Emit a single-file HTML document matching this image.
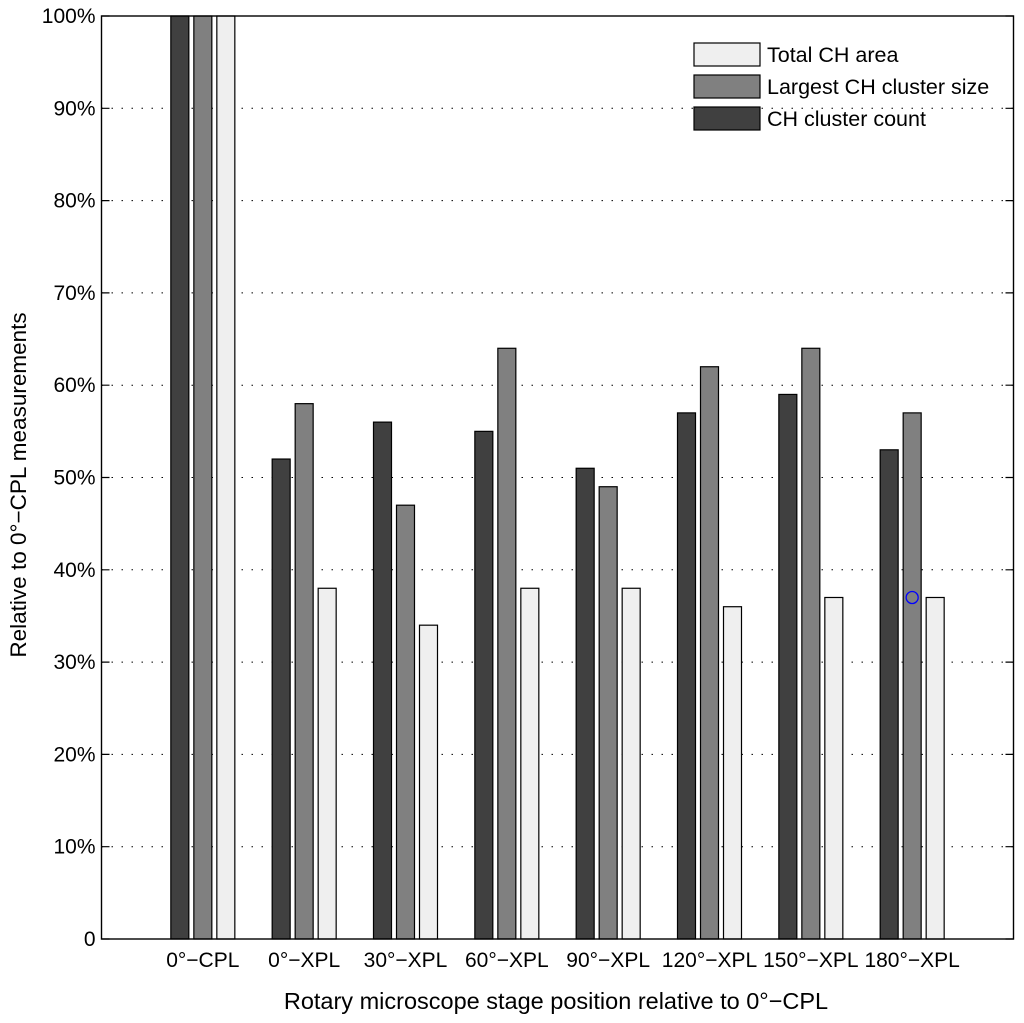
<!DOCTYPE html>
<html><head><meta charset="utf-8"><style>
body{margin:0;background:#fff;}
svg text{font-family:"Liberation Sans",sans-serif;fill:#000;}
</style></head><body>
<svg id="chart" width="1024" height="1018" xmlns="http://www.w3.org/2000/svg">
</svg>
<script>
const categories=["0°−CPL","0°−XPL","30°−XPL","60°−XPL","90°−XPL","120°−XPL","150°−XPL","180°−XPL"];
const clusterCount=[100,52,56,55,51,57,59,53];
const largestCluster=[100,58,47,64,49,62,64,57];
const totalArea=[100,38,34,38,38,36,37,37];
const yTicks=[0,10,20,30,40,50,60,70,80,90,100];
const yTickLabels=["0","10%","20%","30%","40%","50%","60%","70%","80%","90%","100%"];

const svg=document.getElementById('chart');
const NS="http://www.w3.org/2000/svg";
const L=101.5,R=1013.5,T=16,B=939;
const xS=i=>L+(i+1)*(R-L)/9;
const yS=v=>B-(v/100)*(B-T);
function mk(tag,attrs,parent){const e=document.createElementNS(NS,tag);for(const k in attrs)e.setAttribute(k,attrs[k]);(parent||svg).appendChild(e);return e;}

yTicks.forEach((t,i)=>{
  const y=yS(t);
  if(t>0&&t<100){
    const g=mk('line',{x1:L,x2:R,y1:y,y2:y,stroke:'#000','stroke-width':1,'stroke-dasharray':'1.5 8.5'});
    
    
  }
  const tk=mk('path',{d:`M${L},${y}h8M${R},${y}h-8`,stroke:'#000','stroke-width':1.2});
  
  
  const tx=mk('text',{x:L-6,y:y+7,'text-anchor':'end','font-size':21});
  tx.textContent=yTickLabels[i];
  
  
});

const series=[[clusterCount,'#404040',-23,'count'],[largestCluster,'#808080',0,'largest'],[totalArea,'#efefef',23,'area']];
const W=18;
categories.forEach((c,i)=>{
  const cx=xS(i);
  series.forEach(s=>{
    const v=s[0][i];
    const r=mk('rect',{x:cx+s[2]-W/2,y:yS(v),width:W,height:B-yS(v),fill:s[1],stroke:'#000','stroke-width':1.2});
    
    
  });
  const t=mk('text',{x:cx,y:967,'text-anchor':'middle','font-size':21});
  t.textContent=c;
  
  
});

const ax=mk('rect',{x:L,y:T,width:R-L,height:B-T,fill:'none',stroke:'#000','stroke-width':1.4});



const m=mk('circle',{cx:xS(7),cy:yS(37),r:6,fill:'none',stroke:'#0000ff','stroke-width':1.3});



const leg=[['Total CH area','#efefef',43],['Largest CH cluster size','#808080',75],['CH cluster count','#404040',107]];
leg.forEach(l=>{
  const g=mk('g',{});
  
  
  mk('rect',{x:694,y:l[2],width:66,height:23,fill:l[1],stroke:'#000','stroke-width':1.2},g);
  const t=mk('text',{x:767,y:l[2]+19,'font-size':21.5},g);
  t.textContent=l[0];
});

const xt=mk('text',{x:556,y:1009,'text-anchor':'middle','font-size':23.5});
xt.textContent='Rotary microscope stage position relative to 0°−CPL';


const yt=mk('text',{x:0,y:0,'text-anchor':'middle','font-size':22.5,transform:'translate(26,485) rotate(-90)'});
yt.textContent='Relative to 0°−CPL measurements';


</script>
</body></html>
